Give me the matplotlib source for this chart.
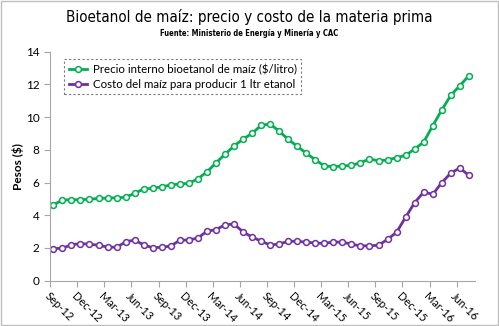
import numpy as np
import matplotlib.pyplot as plt
from matplotlib import font_manager as fm
from matplotlib.patches import Rectangle

# monthly values, Sep-12 .. Jul-16
precio = [4.63, 4.93, 4.95, 4.95, 4.98, 5.03, 5.05, 5.07, 5.10, 5.34,
          5.61, 5.65, 5.74, 5.85, 5.91, 5.95, 6.23, 6.65, 7.20, 7.73,
          8.23, 8.66, 9.00, 9.50, 9.58, 9.14, 8.64, 8.22, 7.79, 7.40,
          7.01, 6.97, 7.01, 7.05, 7.21, 7.44, 7.33, 7.38, 7.52, 7.66,
          8.05, 8.47, 9.47, 10.43, 11.33, 11.92, 12.53]
costo = [1.96, 1.98, 2.20, 2.26, 2.24, 2.16, 2.06, 2.04, 2.37, 2.49,
         2.18, 2.02, 2.04, 2.12, 2.47, 2.49, 2.61, 3.02, 3.12, 3.41,
         3.47, 2.98, 2.67, 2.42, 2.18, 2.24, 2.41, 2.41, 2.35, 2.30,
         2.28, 2.37, 2.35, 2.24, 2.12, 2.14, 2.16, 2.53, 2.96, 3.88,
         4.77, 5.42, 5.28, 5.99, 6.58, 6.89, 6.44]
tick_labels = ["Sep-12", "Dec-12", "Mar-13", "Jun-13", "Sep-13", "Dec-13",
               "Mar-14", "Jun-14", "Sep-14", "Dec-14", "Mar-15", "Jun-15",
               "Sep-15", "Dec-15", "Mar-16", "Jun-16"]

x = np.arange(len(precio))
green = "#00B050"
purple = "#7030A0"
gray = "#A6A6A6"
body = ["Lato", "DejaVu Sans"]

# pick condensed faces for the title (regular) and subtitle (bold)
rank = {"ultra-condensed": 0, "extra-condensed": 1, "condensed": 2, "semi-condensed": 3}
def find_narrow(bold):
    best = None
    for f in fm.fontManager.ttflist:
        st = str(f.stretch)
        if st not in rank and "Condensed" not in f.name and "Narrow" not in f.name:
            continue
        if f.style != "normal":
            continue
        w = f.weight if isinstance(f.weight, int) else (700 if "bold" in str(f.weight) else 400)
        if bold != (w >= 600):
            continue
        score = rank.get(st, 2) + abs(w - (700 if bold else 400)) / 1000
        if best is None or score < best[0]:
            best = (score, f)
    return best[1] if best else None

def font_kw(bold, size):
    f = find_narrow(bold)
    if f is not None:
        return dict(fontproperties=fm.FontProperties(fname=f.fname, size=size))
    return dict(family=["Roboto", "DejaVu Sans"], fontsize=size,
                fontweight="bold" if bold else "normal")

fig = plt.figure(figsize=(4.99, 3.26), dpi=100)
ax = fig.add_axes([0.1002, 0.139, 0.852, 0.7024])

ax.plot(x, precio, color=green, lw=2, marker="o", ms=4.2, mfc="white",
        mec=green, mew=1.1, label="Precio interno bioetanol de maíz ($/litro)")
ax.plot(x, costo, color=purple, lw=2, marker="o", ms=4.2, mfc="white",
        mec=purple, mew=1.1, label="Costo del maíz para producir 1 ltr etanol")

ax.set_ylim(0, 14)
ax.set_yticks(range(0, 15, 2))
ax.set_xlim(-0.37, 46.7)
ax.set_xticks(np.arange(len(tick_labels)) * 3 - 0.35)
ax.set_xticklabels(tick_labels, rotation=-45, ha="left", va="top",
                   rotation_mode="anchor", family=body, fontsize=8)
for lab in ax.get_yticklabels():
    lab.set_family(body)
    lab.set_fontsize(8.5)

for s in ["top", "right"]:
    ax.spines[s].set_visible(False)
for s in ["left", "bottom"]:
    ax.spines[s].set_color(gray)
ax.tick_params(colors=gray, length=4, labelcolor="black")
ax.tick_params(axis="x", pad=3)

ax.set_ylabel("Pesos ($)", family=body, fontsize=8.5, fontweight="bold", labelpad=1)

leg = ax.legend(loc="upper left", bbox_to_anchor=(0.033, 0.968), borderaxespad=0,
                prop={"family": body, "size": 8.3},
                fancybox=False, handlelength=1.6, handletextpad=0.5,
                borderpad=0.4, labelspacing=0.35)
leg.get_frame().set_edgecolor("#595959")
leg.get_frame().set_linestyle((0, (2, 2)))
leg.get_frame().set_linewidth(0.8)

title = fig.text(0.5, 0.948, "Bioetanol de maíz: precio y costo de la materia prima",
                 ha="center", va="center", **font_kw(False, 14))
sub = fig.text(0.5, 0.896, "Fuente: Ministerio de Energía y Minería y CAC",
               ha="center", va="center", **font_kw(True, 7.5))

# scale the heading sizes so their widths match the original
r = fig.canvas.get_renderer()
for t, target in [(title, 368), (sub, 179)]:
    w = t.get_window_extent(r).width
    t.set_fontsize(t.get_fontsize() * target / w)

fig.patches.append(Rectangle((0.002, 0.003), 0.996, 0.994, transform=fig.transFigure,
                             fill=False, edgecolor="#BFBFBF", lw=1))

fig.savefig("out.png", dpi=100)
